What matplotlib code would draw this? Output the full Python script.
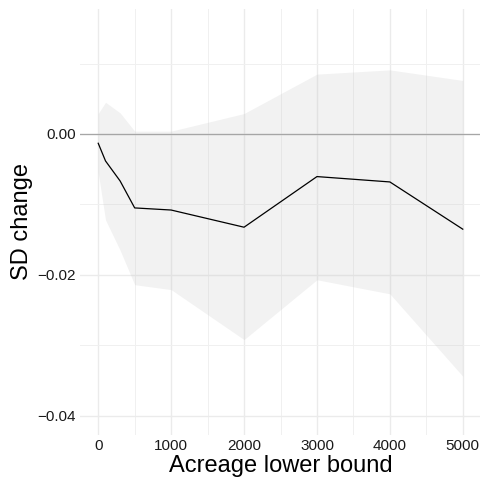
import matplotlib
matplotlib.use("Agg")
import matplotlib.pyplot as plt
from matplotlib.ticker import MultipleLocator, FixedLocator

plt.rcParams["font.family"] = ["Liberation Sans", "DejaVu Sans"]

# --- datos ---
acreage = [0, 100, 300, 500, 1000, 2000, 3000, 4000, 5000]
sd_change = [-0.00132, -0.00383, -0.00667, -0.0105, -0.0108, -0.01324, -0.00605, -0.00681, -0.01352]
upper = [0.0029, 0.0045, 0.0030, 0.0004, 0.0004, 0.0029, 0.0085, 0.0091, 0.0076]
lower = [-0.0055, -0.0122, -0.0165, -0.0214, -0.0221, -0.0292, -0.0207, -0.0227, -0.0344]

x_ticks = [0, 1000, 2000, 3000, 4000, 5000]
y_ticks = [-0.04, -0.02, 0.00]
y_labels = ["\u22120.04", "\u22120.02", "0.00"]

fig = plt.figure(figsize=(4.81, 4.83), dpi=100)
ax = fig.add_axes([80 / 481, 1 - 435 / 483, 401 / 481, 426 / 483])

ax.fill_between(acreage, lower, upper, color="#bebebe", alpha=0.2, linewidth=0, zorder=2)
ax.axhline(0, color="#a6a6a6", linewidth=0.9, zorder=3)
ax.plot(acreage, sd_change, color="black", linewidth=0.9, zorder=4)

ax.set_xlim(-250, 5250)
ax.set_ylim(-0.04275, 0.01775)

ax.xaxis.set_major_locator(FixedLocator(x_ticks))
ax.xaxis.set_minor_locator(MultipleLocator(500))
ax.set_yticks(y_ticks)
ax.set_yticklabels(y_labels)
ax.yaxis.set_minor_locator(FixedLocator([-0.03, -0.01, 0.01]))

ax.grid(which="major", color="#ebebeb", linewidth=1.0, zorder=0)
ax.grid(which="minor", color="#f0f0f0", linewidth=0.7, zorder=0)
ax.set_axisbelow(True)

for s in ax.spines.values():
    s.set_visible(False)
ax.tick_params(which="both", length=0, labelsize=11, labelcolor="#1a1a1a", pad=3)

ax.set_xlabel("Acreage lower bound", fontsize=17, labelpad=1)
ax.set_ylabel("SD change", fontsize=17, labelpad=3)

fig.savefig("out.png", dpi=100)
plt.close(fig)
